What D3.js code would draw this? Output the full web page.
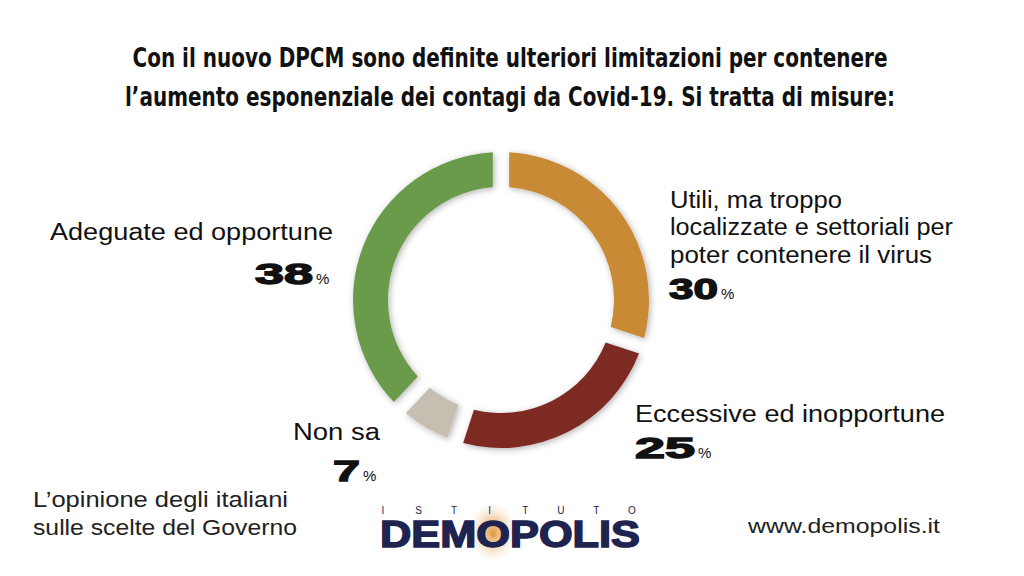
<!DOCTYPE html>
<html>
<head>
<meta charset="utf-8">
<script src="https://cdn.jsdelivr.net/npm/d3@7"></script>
<style>
  html, body { margin: 0; padding: 0; background: #ffffff; }
  svg { display: block; }
</style>
</head>
<body>
<script>
// ---- data ----
const titleLines = [
  "Con il nuovo DPCM sono definite ulteriori limitazioni per contenere",
  "l\u2019aumento esponenziale dei contagi da Covid-19. Si tratta di misure:"
];
const categories = ["Utili", "Eccessive", "Non sa", "Adeguate"];
const labelLines = [
  ["Utili, ma troppo", "localizzate e settoriali per", "poter contenere il virus"],
  ["Eccessive ed inopportune"],
  ["Non sa"],
  ["Adeguate ed opportune"]
];
const values = [30, 25, 7, 38];
const colors = ["#c98a36", "#7b2a22", "#c6beb1", "#6a9b4c"];
const footerLeft = ["L\u2019opinione degli italiani", "sulle scelte del Governo"];
const footerRight = "www.demopolis.it";
const logoTop = "ISTITUTO";
const logoMain = "DEMOPOLIS";

// ---- layout ----
const W = 1024, H = 576;
const cx = 501, cy = 300, rOuter = 148, rInner = 113;

const svg = d3.select("body").append("svg").attr("width", W).attr("height", H);
const defs = svg.append("defs");
const f = defs.append("filter").attr("id", "sh").attr("x", "-20%").attr("y", "-20%").attr("width", "140%").attr("height", "140%");
f.append("feDropShadow").attr("dx", 1.5).attr("dy", 1.5).attr("stdDeviation", 3)
  .attr("flood-color", "#000").attr("flood-opacity", 0.3);
const rg = defs.append("radialGradient").attr("id", "glow");
rg.append("stop").attr("offset", "0%").attr("stop-color", "#e7a24a").attr("stop-opacity", 1);
rg.append("stop").attr("offset", "35%").attr("stop-color", "#e9b676").attr("stop-opacity", 0.8);
rg.append("stop").attr("offset", "100%").attr("stop-color", "#f6e3c8").attr("stop-opacity", 0);

// Title
const titleFont = "'Liberation Sans Narrow', 'DejaVu Sans Condensed', 'Liberation Sans', sans-serif";
const titleGeom = [{ y: 67, len: 755 }, { y: 106, len: 770 }];
svg.selectAll("text.title").data(titleLines).enter().append("text")
  .attr("class", "title")
  .attr("x", 510).attr("y", (d, i) => titleGeom[i].y)
  .attr("text-anchor", "middle")
  .attr("textLength", (d, i) => titleGeom[i].len)
  .attr("lengthAdjust", "spacingAndGlyphs")
  .style("font-family", titleFont).style("font-weight", "bold").style("font-size", "26px")
  .style("fill", "#111")
  .text(d => d);

// Donut
const pie = d3.pie().sort(null).value(d => d)(values);
const arc = d3.arc().innerRadius(rInner).outerRadius(rOuter).padAngle(0.088);
const g = svg.append("g").attr("transform", `translate(${cx},${cy})`);
g.selectAll("path").data(pie).enter().append("path")
  .attr("d", arc)
  .attr("fill", (d, i) => colors[i])
  .attr("filter", "url(#sh)");

// Labels
const labelFont = "'Liberation Sans', Arial, Helvetica, sans-serif";
const numFont = "'Liberation Sans', Arial, sans-serif";
const labelGeom = [
  { x: 670, anchor: "start", ys: [208, 235, 263], lens: [172, 283, 262], ny: 299, nx: 669, nlen: 49 },
  { x: 635, anchor: "start", ys: [422], lens: [310], ny: 458, nx: 635, nlen: 60 },
  { x: 380, anchor: "end", ys: [440], lens: [87], ny: 481, nx: 333, nlen: 27 },
  { x: 333, anchor: "end", ys: [240], lens: [283], ny: 284, nx: 255, nlen: 58 }
];
const lg = svg.selectAll("g.lab").data(categories).enter().append("g").attr("class", "lab");
lg.each(function (c, i) {
  const gg = d3.select(this);
  const geo = labelGeom[i];
  labelLines[i].forEach((line, j) => {
    gg.append("text")
      .attr("x", geo.anchor === "end" ? geo.x - geo.lens[j] : geo.x)
      .attr("y", geo.ys[j])
      .attr("textLength", geo.lens[j])
      .attr("lengthAdjust", "spacingAndGlyphs")
      .style("font-family", labelFont).style("font-size", "23px").style("fill", "#111")
      .text(line);
  });
  gg.append("text")
    .attr("x", geo.nx).attr("y", geo.ny)
    .attr("textLength", geo.nlen)
    .attr("lengthAdjust", "spacingAndGlyphs")
    .style("font-family", numFont).style("font-weight", "900").style("font-size", "30px")
    .style("fill", "#111").style("stroke", "#111").style("stroke-width", 1.4)
    .text(values[i]);
  gg.append("text")
    .attr("x", geo.nx + geo.nlen + 3).attr("y", geo.ny)
    .style("font-family", labelFont).style("font-size", "15px").style("fill", "#111")
    .text("%");
});

// Footer left
svg.selectAll("text.fl").data(footerLeft).enter().append("text")
  .attr("class", "fl")
  .attr("x", 33).attr("y", (d, i) => [507, 535][i])
  .attr("textLength", (d, i) => [255, 264][i])
  .attr("lengthAdjust", "spacingAndGlyphs")
  .style("font-family", labelFont).style("font-size", "22px").style("fill", "#222")
  .text(d => d);

// Footer right
svg.append("text")
  .attr("x", 748).attr("y", 533)
  .attr("textLength", 192).attr("lengthAdjust", "spacingAndGlyphs")
  .style("font-family", labelFont).style("font-size", "21px").style("fill", "#222")
  .text(footerRight);

// Logo
svg.append("ellipse").attr("cx", 493).attr("cy", 532).attr("rx", 24).attr("ry", 30)
  .attr("fill", "url(#glow)");
const topLetters = logoTop.split("");
const tx = d3.scalePoint().domain(d3.range(topLetters.length)).range([383, 632]);
svg.selectAll("text.lt").data(topLetters).enter().append("text")
  .attr("class", "lt")
  .attr("x", (d, i) => tx(i)).attr("y", 514)
  .attr("text-anchor", "middle")
  .style("font-family", labelFont).style("font-size", "10px").style("fill", "#1e2350")
  .text(d => d);
svg.append("text")
  .attr("x", 380).attr("y", 547)
  .attr("textLength", 260).attr("lengthAdjust", "spacingAndGlyphs")
  .style("font-family", numFont).style("font-weight", "900").style("font-size", "37px")
  .style("fill", "#1e2350").style("stroke", "#1e2350").style("stroke-width", 1.5)
  .text(logoMain);
svg.append("circle").attr("cx", 493).attr("cy", 534).attr("r", 3).attr("fill", "#e0a04a");
</script>
</body>
</html>
